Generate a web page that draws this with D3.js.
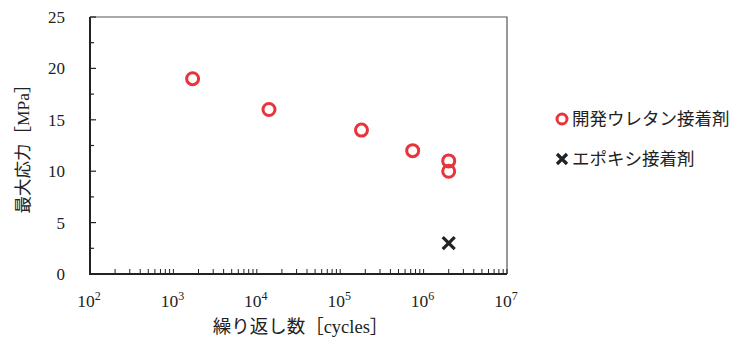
<!DOCTYPE html>
<html>
<head>
<meta charset="utf-8">
<script src="https://cdn.jsdelivr.net/npm/d3@7"></script>
<style>
  body { margin: 0; background: #fff; }
  svg text { font-family: "Liberation Serif", "DejaVu Serif", "Noto Sans CJK JP", serif; fill: #222; }
</style>
</head>
<body>
<div class="container"></div>
<script>
// data
var urethane_cycles = [1700, 14000, 180000, 740000, 2000000, 2000000];
var urethane_stress = [19, 16, 14, 12, 11, 10];
var epoxy_cycles = [2000000];
var epoxy_stress = [3];
var legend_labels = ["開発ウレタン接着剤", "エポキシ接着剤"];
var x_exponents = [2, 3, 4, 5, 6, 7];
var y_ticks = [0, 5, 10, 15, 20, 25];

var margin = {top: 17, right: 234, bottom: 66, left: 90},
    width = 741 - margin.left - margin.right,
    height = 340 - margin.top - margin.bottom;

var red = "#e8353b";

var x_scale = d3.scaleLog().domain([1e2, 1e7]).range([0, width]);
var y_scale = d3.scaleLinear().domain([0, 25]).range([height, 0]);

var svg = d3.select("div.container").append("svg")
    .attr("width", 741)
    .attr("height", 340);

var g = svg.append("g")
    .attr("transform", "translate(" + margin.left + "," + margin.top + ")");

// frame: top and right
g.append("path")
    .attr("d", "M0,0H" + width + "V" + height)
    .attr("fill", "none")
    .attr("stroke", "#555")
    .attr("stroke-width", 1.2);

// minor log ticks on x
var x_minor = [];
for (var e = 2; e < 7; e++) {
  for (var m = 2; m <= 9; m++) x_minor.push(m * Math.pow(10, e));
}
g.append("g").selectAll("line")
    .data(x_minor.concat(x_exponents.map(function(d) { return Math.pow(10, d); })))
    .enter().append("line")
    .attr("x1", function(d) { return x_scale(d); })
    .attr("x2", function(d) { return x_scale(d); })
    .attr("y1", height)
    .attr("y2", height - 5)
    .attr("stroke", "#222")
    .attr("stroke-width", 1);

// y ticks (major + minor)
var y_all = d3.range(0, 25.1, 2.5);
g.append("g").selectAll("line")
    .data(y_all)
    .enter().append("line")
    .attr("x1", 0)
    .attr("x2", function(d) { return d % 5 === 0 ? 6 : 4; })
    .attr("y1", function(d) { return y_scale(d); })
    .attr("y2", function(d) { return y_scale(d); })
    .attr("stroke", "#222")
    .attr("stroke-width", 1.2);

// main axes
g.append("path")
    .attr("d", "M0,0V" + height + "H" + width)
    .attr("fill", "none")
    .attr("stroke", "#222")
    .attr("stroke-width", 2);

// y tick labels
g.append("g").selectAll("text")
    .data(y_ticks)
    .enter().append("text")
    .attr("x", -25)
    .attr("y", function(d) { return y_scale(d); })
    .attr("dy", "0.35em")
    .attr("text-anchor", "end")
    .style("font-size", "17px")
    .text(function(d) { return d; });

// x tick labels 10^n
var xl = g.append("g").selectAll("text")
    .data(x_exponents)
    .enter().append("text")
    .attr("x", function(d) { return x_scale(Math.pow(10, d)) - 1; })
    .attr("y", height + 33)
    .attr("text-anchor", "middle")
    .style("font-size", "17.5px");
xl.append("tspan").text("10");
xl.append("tspan")
    .attr("dy", -7)
    .style("font-size", "12px")
    .text(function(d) { return d; });

// axis titles
svg.append("text")
    .attr("x", margin.left + width / 2 + 2)
    .attr("y", 333)
    .attr("text-anchor", "middle")
    .style("font-size", "18.5px")
    .text("繰り返し数［cycles］");

svg.append("text")
    .attr("transform", "translate(29," + (margin.top + height / 2 - 1) + ") rotate(-90)")
    .attr("text-anchor", "middle")
    .style("font-size", "17.5px")
    .text("最大応力［MPa］");

// urethane points
var pts = urethane_cycles.map(function(c, i) { return [c, urethane_stress[i]]; });
g.append("g").selectAll("circle")
    .data(pts)
    .enter().append("circle")
    .attr("cx", function(d) { return x_scale(d[0]); })
    .attr("cy", function(d) { return y_scale(d[1]); })
    .attr("r", 6)
    .attr("fill", "none")
    .attr("stroke", red)
    .attr("stroke-width", 3);

// epoxy crosses
var cross = function(sel, s) {
  sel.append("path")
      .attr("d", "M" + (-s) + "," + (-s) + "L" + s + "," + s + "M" + (-s) + "," + s + "L" + s + "," + (-s))
      .attr("stroke", "#222")
      .attr("stroke-width", 3.2)
      .attr("fill", "none");
};
var ep = epoxy_cycles.map(function(c, i) { return [c, epoxy_stress[i]]; });
g.append("g").selectAll("g")
    .data(ep)
    .enter().append("g")
    .attr("transform", function(d) { return "translate(" + x_scale(d[0]) + "," + y_scale(d[1]) + ")"; })
    .call(cross, 6);

// legend
var leg = svg.append("g").attr("transform", "translate(562,119)");
leg.append("circle")
    .attr("r", 5)
    .attr("fill", "none")
    .attr("stroke", red)
    .attr("stroke-width", 3);
leg.append("text")
    .attr("x", 10)
    .attr("dy", "0.35em")
    .style("font-size", "17.5px")
    .text(legend_labels[0]);
var leg2 = svg.append("g").attr("transform", "translate(562,159)");
leg2.call(cross, 5);
leg2.append("text")
    .attr("x", 10)
    .attr("dy", "0.35em")
    .style("font-size", "17.5px")
    .text(legend_labels[1]);
</script>
</body>
</html>
